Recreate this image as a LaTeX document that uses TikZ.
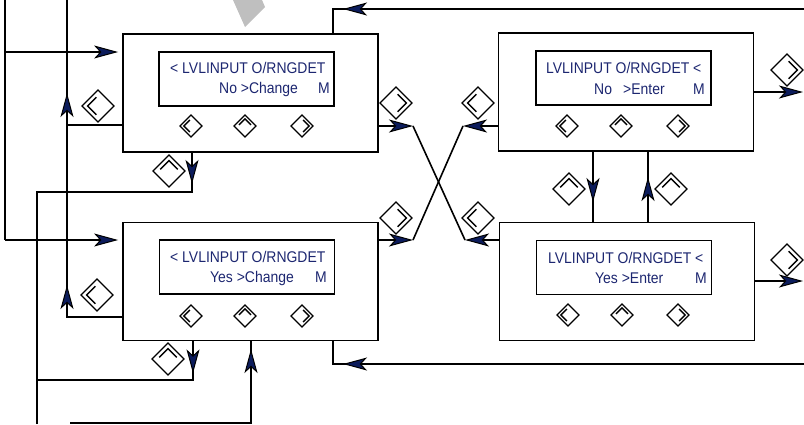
\documentclass[tikz,border=0pt]{standalone}
\usepackage{fontspec}
\setmainfont{Liberation Sans}
\newfontfamily\lcdfont{Liberation Sans}[FakeStretch=0.9]
\usetikzlibrary{arrows.meta}
\definecolor{lcdblue}{RGB}{28,38,112}
\definecolor{tipblue}{RGB}{12,28,92}
\tikzset{
  panel/.style={draw, line width=1.8pt, minimum width=255pt, minimum height=118pt, inner sep=0pt},
  screen/.style={draw, line width=1.8pt, minimum width=175pt, minimum height=54pt, inner sep=0pt},
  lcd/.style={text=lcdblue, font=\lcdfont\fontsize{15.5}{17}\selectfont, inner sep=0pt, anchor=base west},
  wire/.style={line width=1.6pt},
  flow/.style={wire, -{Stealth[length=24pt,width=13pt,inset=6pt,fill=tipblue,line width=1pt]}},
  pics/keyicon/.style={code={
    \draw[line width=1.3pt] (0,-#1) -- (#1,0) -- (0,#1) -- (-#1,0) -- cycle;
    \draw[line width=1.3pt] (-0.1*#1,-0.55*#1) -- (-0.65*#1,0) -- (-0.1*#1,0.55*#1);
  }}
}
\begin{document}
\begin{tikzpicture}[x=1pt, y=-1pt]
    \useasboundingbox (0,0) rectangle (804,424);
    \fill[gray!50] (233,0) -- (262,0) -- (265,7) -- (245,27) -- cycle;

    % Panels and screens
    \node[panel] (chNo) at (250.5,93) {};
    \node[screen] (scChNo) at (246.5,79) {};
    \node[panel] (chYes) at (250.5,281.5) {};
    \node[screen] (scChYes) at (247,267) {};
    \node[panel] (enNo) at (626,92) {};
    \node[screen] (scEnNo) at (623.5,78) {};
    \node[panel] (enYes) at (627,281.5) {};
    \node[screen] (scEnYes) at (624,267.5) {};

    % Screen texts
    \node[lcd] (tChNo) at (170,73) {< LVLINPUT O/RNGDET};
    \node[lcd] (tChNoB) at (219,93) {No >Change};
    \node[lcd] (tChNoM) at (318,93) {M};
    \node[lcd] (tChYes) at (170,262) {< LVLINPUT O/RNGDET};
    \node[lcd] (tChYesB) at (210,282) {Yes >Change};
    \node[lcd] (tChYesM) at (315,282) {M};
    \node[lcd] (tEnNo) at (546,73) {LVLINPUT O/RNGDET <};
    \node[lcd] (tEnNoB) at (594,94) {No};
    \node[lcd] (tEnNoC) at (623,94) {>Enter};
    \node[lcd] (tEnNoM) at (693,94) {M};
    \node[lcd] (tEnYes) at (548,263) {LVLINPUT O/RNGDET <};
    \node[lcd] (tEnYesB) at (595,283) {Yes >Enter};
    \node[lcd] (tEnYesM) at (695,283) {M};

    % Keys on the panels
    \foreach \x/\y in {191/126, 191/316, 567/126, 568/315} \pic at (\x,\y) {keyicon=11};
    \foreach \x/\y in {245/126, 245/316, 621/126, 622/315} \pic[rotate=-90] at (\x,\y) {keyicon=11};
    \foreach \x/\y in {302/126, 302/316, 678/126, 678/315} \pic[rotate=180] at (\x,\y) {keyicon=11};

    % Keys along the wires
    \foreach \x/\y in {98/106, 97/295, 478/103, 478/218} \pic at (\x,\y) {keyicon=16};
    \foreach \x/\y in {169/171, 168/359, 569/189, 671/189} \pic[rotate=-90] at (\x,\y) {keyicon=16};
    \foreach \x/\y in {396/103, 396/218, 787/70, 787/260} \pic[rotate=180] at (\x,\y) {keyicon=16};

    % Left feed
    \coordinate (a0) at (5,0);
    \coordinate (a1) at (5,52);
    \coordinate (a2) at (5,240);
    \draw[wire] (a0) -- (a2);
    \draw[flow, shorten >=4pt] (a1) -- (a1 -| chNo.west);
    \draw[flow, shorten >=4pt] (a2) -- (a2 -| chYes.west);

    % Left key returns
    \coordinate (b0) at (67,0);
    \coordinate (b1) at (67,125);
    \coordinate (b2) at (67,317);
    \draw[wire] (b0) -- (b2) -- (b2 -| chYes.west);
    \draw[wire] (b1) -- (b1 -| chNo.west);
    \draw[flow] (b1) -- ++(0,-32);
    \draw[flow] (b2) -- ++(0,-32);

    % Up key exits
    \coordinate (c0) at (37,424);
    \coordinate (c1) at (37,192);
    \coordinate (c2) at (37,380);
    \coordinate (c3) at (192,192);
    \coordinate (c4) at (193,380);
    \draw[wire] (c0) -- (c1) -- (c3) -- (c3 |- chNo.south);
    \draw[wire] (c2) -- (c4) -- (c4 |- chYes.south);
    \draw[flow] (c3 |- chNo.south) -- ++(0,31);
    \draw[flow] (c4 |- chYes.south) -- ++(0,32);

    % Bottom feed
    \coordinate (d0) at (70,423);
    \coordinate (d1) at (251,423);
    \draw[wire] (d0) -- (d1) -- (d1 |- chYes.south);
    \draw[flow] (d1) -- ++(0,-74);

    % Returns from the right
    \coordinate (e0) at (804,9);
    \coordinate (e1) at (333,9);
    \draw[wire] (e0) -- (e1) -- (e1 |- chNo.north);
    \draw[flow] (e0) -- ++(-461,0);
    \coordinate (f0) at (804,364);
    \coordinate (f1) at (333,364);
    \draw[wire] (f0) -- (f1) -- (f1 |- chYes.south);
    \draw[flow] (f0) -- ++(-461,0);

    % Right outputs
    \coordinate (g0) at (803,92);
    \coordinate (g1) at (803,281);
    \draw[flow] (g0 -| enNo.east) -- (g0);
    \draw[flow] (g1 -| enYes.east) -- (g1);

    % Cross links
    \coordinate (h1) at (413,126);
    \coordinate (h2) at (465,240);
    \coordinate (h3) at (463,126);
    \coordinate (h4) at (413,240);
    \draw[flow] (h1 -| chNo.east) -- (h1);
    \draw[wire] (h1) -- (h2);
    \draw[flow] (h2 -| enYes.west) -- (h2);
    \draw[flow] (h3 -| enNo.west) -- (h3);
    \draw[wire] (h3) -- (h4);
    \draw[flow] (h4 -| chYes.east) -- (h4);

    % Enter panels linked
    \coordinate (k1) at (593,202);
    \coordinate (k2) at (648,177);
    \draw[wire] (k1 |- enNo.south) -- (k1 |- enYes.north);
    \draw[flow] (k1 |- enNo.south) -- (k1);
    \draw[wire] (k2 |- enYes.north) -- (k2 |- enNo.south);
    \draw[flow] (k2 |- enYes.north) -- (k2);
\end{tikzpicture}
\end{document}
